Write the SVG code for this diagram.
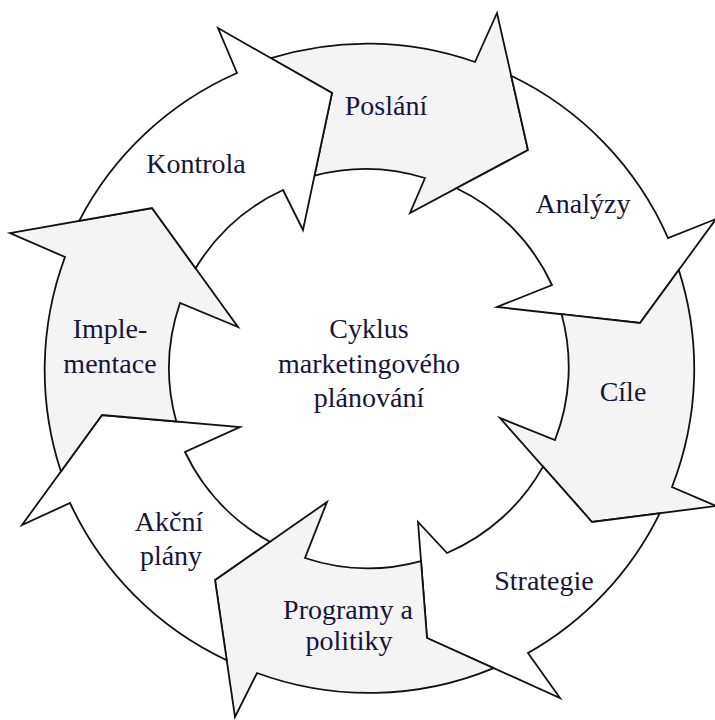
<svg xmlns="http://www.w3.org/2000/svg" width="715" height="720" viewBox="0 0 715 720">
<style>
.arrow{stroke:#111;stroke-width:1.8;stroke-linejoin:miter;stroke-miterlimit:10}
.g{fill:#f4f4f4}
.w{fill:#ffffff}
text{font-family:"Liberation Serif","Times New Roman",serif;font-size:28px;fill:#16163a;text-anchor:middle}
</style>
<rect width="715" height="720" fill="#ffffff"/>
<g id="poslani">
<path class="arrow g" d="M 270.9 58.2 A 325 325 0 0 1 475 62 L 497 13 L 528 150 L 410 213 L 425 178 A 200 200 0 0 0 314.5 175.6 L 332 93 Z"/>
<text x="386" y="115">Poslání</text>
</g>
<g id="analyzy">
<path class="arrow w" d="M 511.2 75.8 A 325 325 0 0 1 668 238 L 716 219 L 640 323 L 497 307 L 552 285 A 200 200 0 0 0 456.5 188.2 L 528 150 Z"/>
<text x="583" y="213">Analýzy</text>
</g>
<g id="cile">
<path class="arrow g" d="M 678.8 269.9 A 325 325 0 0 1 672 487 L 716 506 L 592 522 L 500 418 L 555 440 A 200 200 0 0 0 561.6 314.2 L 640 323 Z"/>
<text x="623" y="401">Cíle</text>
</g>
<g id="strategie">
<path class="arrow w" d="M 659.7 513.3 A 325 325 0 0 1 528 653 L 560 698 L 427 638 L 418 522 L 447 553 A 200 200 0 0 0 543 466.6 L 592 522 Z"/>
<text x="544" y="590">Strategie</text>
</g>
<g id="programy">
<path class="arrow g" d="M 493.7 668.1 A 325 325 0 0 1 257 673 L 235 717 L 215 580 L 327 502 L 305 558 A 200 200 0 0 0 421 561.1 L 427 638 Z"/>
<text x="348" y="619">Programy a</text>
<text x="349" y="650">politiky</text>
</g>
<g id="akcni-plany">
<path class="arrow w" d="M 226.7 660.2 A 325 325 0 0 1 70 503 L 22 525 L 102 415 L 240 427 L 185 452 A 200 200 0 0 0 269.9 541.7 L 215 580 Z"/>
<text x="169" y="531">Akční</text>
<text x="171" y="565">plány</text>
</g>
<g id="implementace">
<path class="arrow g" d="M 60.9 471.5 A 325 325 0 0 1 65 257 L 10 233 L 152 208 L 238 327 L 180 303 A 200 200 0 0 0 176.3 421.5 L 102 415 Z"/>
<text x="110" y="338">Imple-</text>
<text x="110" y="373">mentace</text>
</g>
<g id="kontrola">
<path class="arrow w" d="M 79.2 220.8 A 325 325 0 0 1 237 73 L 218 28 L 332 93 L 303 230 L 283 190 A 200 200 0 0 0 195.6 268.3 L 152 208 Z"/>
<text x="196" y="173">Kontrola</text>
</g>
<g id="center">
<text x="369" y="338">Cyklus</text>
<text x="369" y="373">marketingového</text>
<text x="369" y="407">plánování</text>
</g>
</svg>
